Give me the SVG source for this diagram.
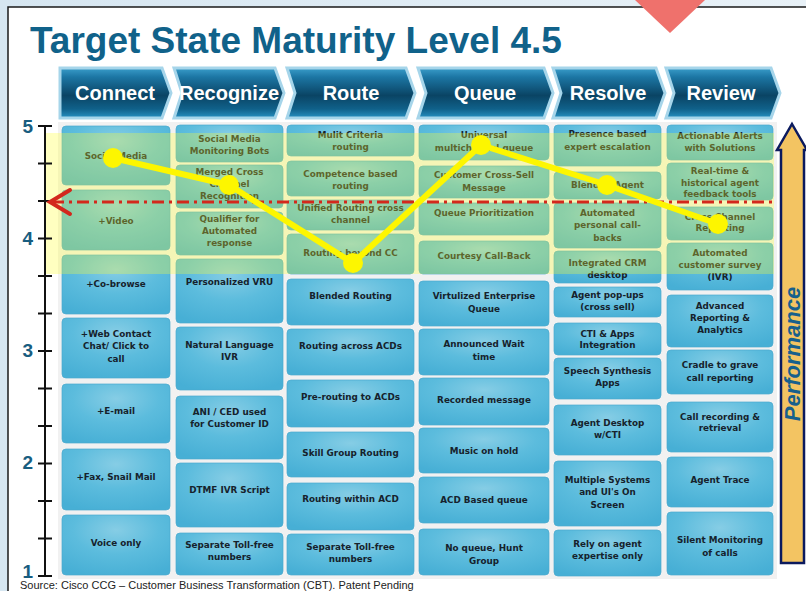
<svg xmlns="http://www.w3.org/2000/svg" width="806" height="591" viewBox="0 0 806 591">
  <defs>
    <linearGradient id="hdrFill" x1="0" y1="0" x2="0" y2="1">
      <stop offset="0" stop-color="#3a9dca"/>
      <stop offset="0.18" stop-color="#1c76a4"/>
      <stop offset="0.55" stop-color="#0a4464"/>
      <stop offset="0.82" stop-color="#10618a"/>
      <stop offset="1" stop-color="#2891c2"/>
    </linearGradient>
    <radialGradient id="cellFill" cx="0.5" cy="0.25" r="0.8">
      <stop offset="0" stop-color="#86cde5"/>
      <stop offset="0.5" stop-color="#5cbcdd"/>
      <stop offset="1" stop-color="#47afd5"/>
    </radialGradient>
    <linearGradient id="sideFill" x1="0" y1="0" x2="1" y2="0">
      <stop offset="0" stop-color="#d6e6f1"/>
      <stop offset="1" stop-color="#e8f1f7"/>
    </linearGradient>
  </defs>
  <style>
    .title { font-family: "Liberation Sans", Arial, sans-serif; font-weight: bold; font-size: 37px; fill: #10628a; }
    .hdr { fill: url(#hdrFill); stroke: #a6d5ea; stroke-width: 3; stroke-linejoin: miter; }
    .hdr-t { font-family: "Liberation Sans", Arial, sans-serif; font-weight: bold; font-size: 20px; fill: #ffffff; text-anchor: middle; }
    .cell { fill: url(#cellFill); stroke: #4aa9cf; stroke-width: 0.7; }
    .ct { font-family: "DejaVu Sans", Verdana, sans-serif; font-weight: bold; font-size: 8.8px; fill: #16222c; text-anchor: middle; }
    .axis { stroke: #111111; stroke-width: 2; }
    .num { font-family: "Liberation Sans", Arial, sans-serif; font-weight: bold; font-size: 19px; fill: #185d80; text-anchor: end; }
    .src { font-family: "Liberation Sans", Arial, sans-serif; font-size: 11px; fill: #222222; }
    .perf { font-family: "Liberation Sans", Arial, sans-serif; font-weight: bold; font-style: italic; font-size: 22px; fill: #17608c; text-anchor: middle; }
  </style>

  <!-- page background and panel -->
  <rect x="0" y="0" width="806" height="591" fill="url(#sideFill)"/>
  <rect x="8" y="7" width="810" height="600" fill="#ffffff" stroke="#1a1a1a" stroke-width="1.5"/>
  <polygon points="635,0 705,0 670,33" fill="#ef716c"/>

  <text class="title" x="30" y="53">Target State Maturity Level 4.5</text>

  <!-- stage headers -->
  <g id="hdr-connect">
    <polygon class="hdr" points="60,68 162,68 171,93 162,118 60,118"/>
    <text class="hdr-t" x="115" y="100">Connect</text>
  </g>
  <g id="hdr-recognize">
    <polygon class="hdr" points="174,68 275,68 284,93 275,118 174,118 182,93"/>
    <text class="hdr-t" x="229" y="100">Recognize</text>
  </g>
  <g id="hdr-route">
    <polygon class="hdr" points="287,68 406,68 415,93 406,118 287,118 295,93"/>
    <text class="hdr-t" x="351" y="100">Route</text>
  </g>
  <g id="hdr-queue">
    <polygon class="hdr" points="418,68 544,68 553,93 544,118 418,118 426,93"/>
    <text class="hdr-t" x="485" y="100">Queue</text>
  </g>
  <g id="hdr-resolve">
    <polygon class="hdr" points="553,68 656,68 665,93 656,118 553,118 561,93"/>
    <text class="hdr-t" x="608" y="100">Resolve</text>
  </g>
  <g id="hdr-review">
    <polygon class="hdr" points="666,68 771,68 780,93 771,118 666,118 674,93"/>
    <text class="hdr-t" x="721" y="100">Review</text>
  </g>

  <!-- chart backdrop -->
  <rect x="58" y="122" width="719" height="457" fill="#f1f1f1"/>

  <!-- Connect column -->
  <g id="connect-1"><rect class="cell" x="62" y="126" width="108" height="59" rx="4"/><text class="ct" x="116" y="158.5">Social Media</text></g>
  <g id="connect-2"><rect class="cell" x="62" y="190" width="108" height="60" rx="4"/><text class="ct" x="116" y="223.5">+Video</text></g>
  <g id="connect-3"><rect class="cell" x="62" y="255" width="108" height="59" rx="4"/><text class="ct" x="116" y="286.5">+Co-browse</text></g>
  <g id="connect-4"><rect class="cell" x="62" y="318" width="108" height="60" rx="4"/><text class="ct" x="116" y="336.5">+Web Contact</text><text class="ct" x="116" y="349">Chat/ Click to</text><text class="ct" x="116" y="361.5">call</text></g>
  <g id="connect-5"><rect class="cell" x="62" y="384" width="108" height="59" rx="4"/><text class="ct" x="116" y="413.5">+E-mail</text></g>
  <g id="connect-6"><rect class="cell" x="62" y="449" width="108" height="61" rx="4"/><text class="ct" x="116" y="479.5">+Fax, Snail Mail</text></g>
  <g id="connect-7"><rect class="cell" x="62" y="515" width="108" height="60" rx="4"/><text class="ct" x="116" y="545.5">Voice only</text></g>

  <!-- Recognize column -->
  <g id="recognize-1"><rect class="cell" x="176" y="125" width="107" height="37" rx="4"/><text class="ct" x="229.5" y="141.5">Social Media</text><text class="ct" x="229.5" y="153.5">Monitoring Bots</text></g>
  <g id="recognize-2"><rect class="cell" x="176" y="165" width="107" height="43" rx="4"/><text class="ct" x="229.5" y="174.5">Merged Cross</text><text class="ct" x="229.5" y="186.5">Channel</text><text class="ct" x="229.5" y="199">Recognition</text></g>
  <g id="recognize-3"><rect class="cell" x="176" y="212" width="107" height="43" rx="4"/><text class="ct" x="229.5" y="221.5">Qualifier for</text><text class="ct" x="229.5" y="233.5">Automated</text><text class="ct" x="229.5" y="246">response</text></g>
  <g id="recognize-4"><rect class="cell" x="176" y="259" width="107" height="64" rx="4"/><text class="ct" x="229.5" y="284.5">Personalized VRU</text></g>
  <g id="recognize-5"><rect class="cell" x="176" y="327" width="107" height="63" rx="4"/><text class="ct" x="229.5" y="347.5">Natural Language</text><text class="ct" x="229.5" y="360">IVR</text></g>
  <g id="recognize-6"><rect class="cell" x="176" y="396" width="107" height="63" rx="4"/><text class="ct" x="229.5" y="414.5">ANI / CED used</text><text class="ct" x="229.5" y="426.5">for Customer ID</text></g>
  <g id="recognize-7"><rect class="cell" x="176" y="463" width="107" height="64" rx="4"/><text class="ct" x="229.5" y="492.5">DTMF IVR Script</text></g>
  <g id="recognize-8"><rect class="cell" x="176" y="533" width="107" height="42" rx="4"/><text class="ct" x="229.5" y="547.5">Separate Toll-free</text><text class="ct" x="229.5" y="560">numbers</text></g>

  <!-- Route column -->
  <g id="route-1"><rect class="cell" x="287" y="125" width="127" height="31" rx="4"/><text class="ct" x="350.5" y="137.5">Mulit Criteria</text><text class="ct" x="350.5" y="149.5">routing</text></g>
  <g id="route-2"><rect class="cell" x="287" y="161" width="127" height="35" rx="4"/><text class="ct" x="350.5" y="176.5">Competence based</text><text class="ct" x="350.5" y="188.5">routing</text></g>
  <g id="route-3"><rect class="cell" x="287" y="200" width="127" height="30" rx="4"/><text class="ct" x="350.5" y="210.5">Unified Routing cross</text><text class="ct" x="350.5" y="222.5">channel</text></g>
  <g id="route-4"><rect class="cell" x="287" y="234" width="127" height="40" rx="4"/><text class="ct" x="350.5" y="255.5">Routing beyond CC</text></g>
  <g id="route-5"><rect class="cell" x="287" y="279" width="127" height="46" rx="4"/><text class="ct" x="350.5" y="298.5">Blended Routing</text></g>
  <g id="route-6"><rect class="cell" x="287" y="329" width="127" height="46" rx="4"/><text class="ct" x="350.5" y="348.5">Routing across ACDs</text></g>
  <g id="route-7"><rect class="cell" x="287" y="380" width="127" height="47" rx="4"/><text class="ct" x="350.5" y="399.5">Pre-routing to ACDs</text></g>
  <g id="route-8"><rect class="cell" x="287" y="432" width="127" height="45" rx="4"/><text class="ct" x="350.5" y="455.5">Skill Group Routing</text></g>
  <g id="route-9"><rect class="cell" x="287" y="483" width="127" height="47" rx="4"/><text class="ct" x="350.5" y="501.5">Routing within ACD</text></g>
  <g id="route-10"><rect class="cell" x="287" y="534" width="127" height="41" rx="4"/><text class="ct" x="350.5" y="549.5">Separate Toll-free</text><text class="ct" x="350.5" y="561.5">numbers</text></g>

  <!-- Queue column -->
  <g id="queue-1"><rect class="cell" x="419" y="125" width="130" height="35" rx="4"/><text class="ct" x="484" y="137.5">Universal</text><text class="ct" x="484" y="150.5">multichannel queue</text></g>
  <g id="queue-2"><rect class="cell" x="419" y="166" width="130" height="32" rx="4"/><text class="ct" x="484" y="177.5">Customer Cross-Sell</text><text class="ct" x="484" y="190.5">Message</text></g>
  <g id="queue-3"><rect class="cell" x="419" y="203" width="130" height="32" rx="4"/><text class="ct" x="484" y="215.5">Queue Prioritization</text></g>
  <g id="queue-4"><rect class="cell" x="419" y="241" width="130" height="33" rx="4"/><text class="ct" x="484" y="258.5">Courtesy Call-Back</text></g>
  <g id="queue-5"><rect class="cell" x="419" y="281" width="130" height="45" rx="4"/><text class="ct" x="484" y="298.5">Virtulized Enterprise</text><text class="ct" x="484" y="311.5">Queue</text></g>
  <g id="queue-6"><rect class="cell" x="419" y="329" width="130" height="46" rx="4"/><text class="ct" x="484" y="346.5">Announced Wait</text><text class="ct" x="484" y="359.5">time</text></g>
  <g id="queue-7"><rect class="cell" x="419" y="378" width="130" height="47" rx="4"/><text class="ct" x="484" y="402.5">Recorded message</text></g>
  <g id="queue-8"><rect class="cell" x="419" y="428" width="130" height="45" rx="4"/><text class="ct" x="484" y="453.5">Music on hold</text></g>
  <g id="queue-9"><rect class="cell" x="419" y="477" width="130" height="46" rx="4"/><text class="ct" x="484" y="502.5">ACD Based queue</text></g>
  <g id="queue-10"><rect class="cell" x="419" y="529" width="130" height="46" rx="4"/><text class="ct" x="484" y="550.5">No queue, Hunt</text><text class="ct" x="484" y="563.5">Group</text></g>

  <!-- Resolve column -->
  <g id="resolve-1"><rect class="cell" x="554" y="125" width="107" height="41" rx="4"/><text class="ct" x="607.5" y="136.5">Presence based</text><text class="ct" x="607.5" y="149.5">expert escalation</text></g>
  <g id="resolve-2"><rect class="cell" x="554" y="172" width="107" height="27" rx="4"/><text class="ct" x="607.5" y="187.5">Blended Agent</text></g>
  <g id="resolve-3"><rect class="cell" x="554" y="203" width="107" height="45" rx="4"/><text class="ct" x="607.5" y="215.5">Automated</text><text class="ct" x="607.5" y="228">personal call-</text><text class="ct" x="607.5" y="240.5">backs</text></g>
  <g id="resolve-4"><rect class="cell" x="554" y="251" width="107" height="32" rx="4"/><text class="ct" x="607.5" y="265.5">Integrated CRM</text><text class="ct" x="607.5" y="277.5">desktop</text></g>
  <g id="resolve-5"><rect class="cell" x="554" y="287" width="107" height="30" rx="4"/><text class="ct" x="607.5" y="297.5">Agent pop-ups</text><text class="ct" x="607.5" y="309.5">(cross sell)</text></g>
  <g id="resolve-6"><rect class="cell" x="554" y="323" width="107" height="32" rx="4"/><text class="ct" x="607.5" y="336.5">CTI &amp; Apps</text><text class="ct" x="607.5" y="348">Integration</text></g>
  <g id="resolve-7"><rect class="cell" x="554" y="358" width="107" height="41" rx="4"/><text class="ct" x="607.5" y="373.5">Speech Synthesis</text><text class="ct" x="607.5" y="385.5">Apps</text></g>
  <g id="resolve-8"><rect class="cell" x="554" y="405" width="107" height="50" rx="4"/><text class="ct" x="607.5" y="425.5">Agent Desktop</text><text class="ct" x="607.5" y="437.5">w/CTI</text></g>
  <g id="resolve-9"><rect class="cell" x="554" y="461" width="107" height="65" rx="4"/><text class="ct" x="607.5" y="482.5">Multiple Systems</text><text class="ct" x="607.5" y="495">and UI's On</text><text class="ct" x="607.5" y="507.5">Screen</text></g>
  <g id="resolve-10"><rect class="cell" x="554" y="530" width="107" height="46" rx="4"/><text class="ct" x="607.5" y="546.5">Rely on agent</text><text class="ct" x="607.5" y="558.5">expertise only</text></g>

  <!-- Review column -->
  <g id="review-1"><rect class="cell" x="667" y="125" width="106" height="35" rx="4"/><text class="ct" x="720" y="138.5">Actionable Alerts</text><text class="ct" x="720" y="150.5">with Solutions</text></g>
  <g id="review-2"><rect class="cell" x="667" y="163" width="106" height="37" rx="4"/><text class="ct" x="720" y="173.5">Real-time &amp;</text><text class="ct" x="720" y="185.5">historical agent</text><text class="ct" x="720" y="197">feedback tools</text></g>
  <g id="review-3"><rect class="cell" x="667" y="207" width="106" height="33" rx="4"/><text class="ct" x="720" y="219.5">Cross Channel</text><text class="ct" x="720" y="230.5">Reporting</text></g>
  <g id="review-4"><rect class="cell" x="667" y="243" width="106" height="47" rx="4"/><text class="ct" x="720" y="255.5">Automated</text><text class="ct" x="720" y="267.5">customer survey</text><text class="ct" x="720" y="279.5">(IVR)</text></g>
  <g id="review-5"><rect class="cell" x="667" y="295" width="106" height="52" rx="4"/><text class="ct" x="720" y="308.5">Advanced</text><text class="ct" x="720" y="320.5">Reporting &amp;</text><text class="ct" x="720" y="332.5">Analytics</text></g>
  <g id="review-6"><rect class="cell" x="667" y="350" width="106" height="44" rx="4"/><text class="ct" x="720" y="367.5">Cradle to grave</text><text class="ct" x="720" y="380.5">call reporting</text></g>
  <g id="review-7"><rect class="cell" x="667" y="402" width="106" height="50" rx="4"/><text class="ct" x="720" y="419.5">Call recording &amp;</text><text class="ct" x="720" y="430.5">retrieval</text></g>
  <g id="review-8"><rect class="cell" x="667" y="457" width="106" height="50" rx="4"/><text class="ct" x="720" y="482.5">Agent Trace</text></g>
  <g id="review-9"><rect class="cell" x="667" y="512" width="106" height="63" rx="4"/><text class="ct" x="720" y="542.5">Silent Monitoring</text><text class="ct" x="720" y="555.5">of calls</text></g>

  <!-- target band (levels 4 to 5) -->
  <rect x="46" y="133" width="728" height="141" fill="#ffff30" fill-opacity="0.3"/>

  <!-- maturity axis -->
  <g id="axis">
    <line class="axis" x1="45" y1="125" x2="45" y2="577"/>
    <line class="axis" x1="38" y1="126" x2="52" y2="126"/>
    <line class="axis" x1="38" y1="163.5" x2="52" y2="163.5"/>
    <line class="axis" x1="38" y1="201" x2="52" y2="201"/>
    <line class="axis" x1="38" y1="238.5" x2="52" y2="238.5"/>
    <line class="axis" x1="38" y1="276" x2="52" y2="276"/>
    <line class="axis" x1="38" y1="313.5" x2="52" y2="313.5"/>
    <line class="axis" x1="38" y1="351" x2="52" y2="351"/>
    <line class="axis" x1="38" y1="388.5" x2="52" y2="388.5"/>
    <line class="axis" x1="38" y1="426" x2="52" y2="426"/>
    <line class="axis" x1="38" y1="463.5" x2="52" y2="463.5"/>
    <line class="axis" x1="38" y1="501" x2="52" y2="501"/>
    <line class="axis" x1="38" y1="538.5" x2="52" y2="538.5"/>
    <line class="axis" x1="38" y1="576" x2="52" y2="576"/>
    <text class="num" x="33" y="133">5</text>
    <text class="num" x="33" y="245">4</text>
    <text class="num" x="33" y="357">3</text>
    <text class="num" x="33" y="469">2</text>
    <text class="num" x="33" y="578">1</text>
  </g>

  <!-- performance arrow -->
  <g id="performance">
    <polygon points="792,124 807,150 804,150 804,563 781,563 781,150 777,150" fill="#f3c462" stroke="#0b1a5e" stroke-width="2.5" stroke-linejoin="miter"/>
    <text class="perf" x="0" y="0" transform="translate(800,354) rotate(-90)">Performance</text>
  </g>

  <!-- target level line and current-state profile -->
  <g id="lines">
    <line x1="52" y1="202" x2="775" y2="202" stroke="#d3281c" stroke-width="3" stroke-dasharray="12 5 3 5"/>
    <polyline points="70,190 50,202 70,214" fill="none" stroke="#d3281c" stroke-width="4" stroke-linecap="round" stroke-linejoin="miter"/>
    <polyline points="113,158 229,185 353,263 481,145 607,185 718,224" fill="none" stroke="#fdf600" stroke-width="6" stroke-linejoin="round"/>
    <g fill="#fdf600">
      <circle cx="113" cy="158" r="10"/>
      <circle cx="229" cy="185" r="10"/>
      <circle cx="353" cy="263" r="10"/>
      <circle cx="481" cy="145" r="10"/>
      <circle cx="607" cy="185" r="10"/>
      <circle cx="718" cy="224" r="10"/>
    </g>
  </g>

  <text class="src" x="20" y="589">Source: Cisco CCG – Customer Business Transformation (CBT). Patent Pending</text>
</svg>
